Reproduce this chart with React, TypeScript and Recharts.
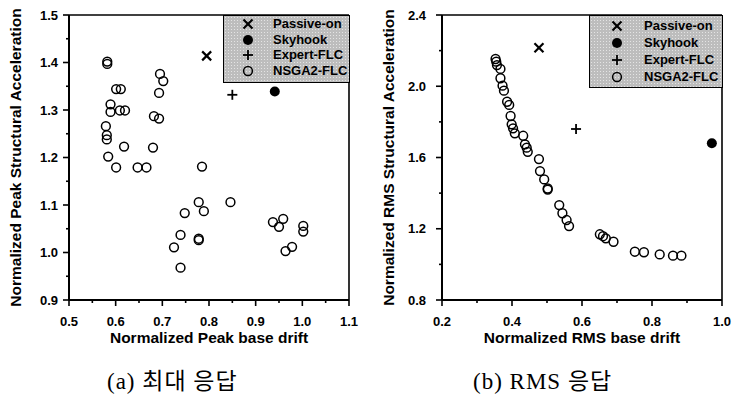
import React from 'react';
import { ScatterChart, Scatter, XAxis, YAxis, ReferenceLine, Legend } from 'recharts';

const seriesNames = ['Passive-on', 'Skyhook', 'Expert-FLC', 'NSGA2-FLC'];

// (a) Peak response
const peakPassive = [{ x: 0.795, y: 1.414 }];
const peakSkyhook = [{ x: 0.941, y: 1.339 }];
const peakExpert = [{ x: 0.85, y: 1.332 }];
const peakNsga = [
  { x: 0.582, y: 1.402 }, { x: 0.582, y: 1.397 }, { x: 0.695, y: 1.376 }, { x: 0.702, y: 1.361 },
  { x: 0.693, y: 1.336 }, { x: 0.601, y: 1.344 }, { x: 0.611, y: 1.344 }, { x: 0.589, y: 1.312 },
  { x: 0.589, y: 1.296 }, { x: 0.609, y: 1.299 }, { x: 0.62, y: 1.299 }, { x: 0.682, y: 1.287 },
  { x: 0.693, y: 1.282 }, { x: 0.579, y: 1.266 }, { x: 0.581, y: 1.247 }, { x: 0.581, y: 1.238 },
  { x: 0.618, y: 1.223 }, { x: 0.68, y: 1.221 }, { x: 0.584, y: 1.202 }, { x: 0.601, y: 1.179 },
  { x: 0.647, y: 1.179 }, { x: 0.666, y: 1.179 }, { x: 0.785, y: 1.181 },
  { x: 0.778, y: 1.106 }, { x: 0.846, y: 1.106 }, { x: 0.748, y: 1.083 }, { x: 0.789, y: 1.087 },
  { x: 0.739, y: 1.037 }, { x: 0.778, y: 1.029 }, { x: 0.778, y: 1.026 }, { x: 0.725, y: 1.011 },
  { x: 0.739, y: 0.968 }, { x: 0.937, y: 1.064 }, { x: 0.95, y: 1.054 }, { x: 0.959, y: 1.071 },
  { x: 0.964, y: 1.003 }, { x: 0.978, y: 1.012 }, { x: 1.002, y: 1.056 }, { x: 1.002, y: 1.044 },
];

// (b) RMS response
const rmsPassive = [{ x: 0.477, y: 2.216 }];
const rmsSkyhook = [{ x: 0.971, y: 1.68 }];
const rmsExpert = [{ x: 0.583, y: 1.76 }];
const rmsNsga = [
  { x: 0.353, y: 2.153 }, { x: 0.355, y: 2.138 }, { x: 0.357, y: 2.119 }, { x: 0.367, y: 2.097 },
  { x: 0.367, y: 2.045 }, { x: 0.373, y: 2.003 }, { x: 0.377, y: 1.975 }, { x: 0.386, y: 1.913 },
  { x: 0.392, y: 1.895 }, { x: 0.396, y: 1.833 }, { x: 0.399, y: 1.786 }, { x: 0.403, y: 1.764 },
  { x: 0.408, y: 1.736 }, { x: 0.432, y: 1.722 }, { x: 0.437, y: 1.674 }, { x: 0.442, y: 1.655 },
  { x: 0.445, y: 1.632 }, { x: 0.477, y: 1.591 }, { x: 0.48, y: 1.524 }, { x: 0.492, y: 1.477 },
  { x: 0.502, y: 1.426 }, { x: 0.502, y: 1.42 }, { x: 0.535, y: 1.333 }, { x: 0.544, y: 1.287 },
  { x: 0.556, y: 1.249 }, { x: 0.563, y: 1.215 }, { x: 0.651, y: 1.169 }, { x: 0.66, y: 1.158 },
  { x: 0.668, y: 1.146 }, { x: 0.69, y: 1.127 }, { x: 0.751, y: 1.071 }, { x: 0.777, y: 1.068 },
  { x: 0.822, y: 1.056 }, { x: 0.86, y: 1.049 }, { x: 0.884, y: 1.049 },
];

const peakXMajor = [0.5, 0.6, 0.7, 0.8, 0.9, 1.0, 1.1];
const peakXMinor = [0.55, 0.65, 0.75, 0.85, 0.95, 1.05];
const peakYMajor = [0.9, 1.0, 1.1, 1.2, 1.3, 1.4, 1.5];
const peakYMinor = [0.95, 1.05, 1.15, 1.25, 1.35, 1.45];
const rmsXMajor = [0.2, 0.4, 0.6, 0.8, 1.0];
const rmsXMinor = [0.3, 0.5, 0.7, 0.9];
const rmsYMajor = [0.8, 1.2, 1.6, 2.0, 2.4];
const rmsYMinor = [1.0, 1.4, 1.8, 2.2];

const captionA = '(a) 최대 응답';
const captionB = '(b) RMS 응답';

const FONT = "'Liberation Sans', Arial, Helvetica, sans-serif";

const merge = (a: number[], b: number[]) => [...a, ...b].sort((p, q) => p - q);
const isMajor = (v: number, majors: number[]) => majors.some((m) => Math.abs(m - v) < 1e-6);

const XTick = (props: any) => {
  const { x, y, payload, majors } = props;
  const major = isMajor(payload.value, majors);
  return (
    <g>
      <line x1={x} x2={x} y1={y} y2={y + (major ? 6 : 3)} stroke="#000" strokeWidth={1.6} />
      {major && (
        <text x={x} y={y + 26} textAnchor="middle" fontSize={13} fontWeight="bold" fontFamily={FONT} fill="#000">
          {payload.value.toFixed(1)}
        </text>
      )}
    </g>
  );
};

const YTick = (props: any) => {
  const { x, y, payload, majors, gap } = props;
  const major = isMajor(payload.value, majors);
  return (
    <g>
      <line x1={x} x2={x - (major ? 6 : 3)} y1={y} y2={y} stroke="#000" strokeWidth={1.6} />
      {major && (
        <text x={x - gap} y={y + 4.5} textAnchor="end" fontSize={13} fontWeight="bold" fontFamily={FONT} fill="#000">
          {payload.value.toFixed(1)}
        </text>
      )}
    </g>
  );
};

const Marker = ({ kind, cx, cy }: { kind: string; cx: number; cy: number }) => {
  if (kind === 'Passive-on') {
    return (
      <g stroke="#000" strokeWidth={2.2}>
        <line x1={cx - 4.5} y1={cy - 4.5} x2={cx + 4.5} y2={cy + 4.5} />
        <line x1={cx - 4.5} y1={cy + 4.5} x2={cx + 4.5} y2={cy - 4.5} />
      </g>
    );
  }
  if (kind === 'Skyhook') return <circle cx={cx} cy={cy} r={5} fill="#000" />;
  if (kind === 'Expert-FLC') {
    return (
      <g stroke="#000" strokeWidth={1.8}>
        <line x1={cx - 5} y1={cy} x2={cx + 5} y2={cy} />
        <line x1={cx} y1={cy - 5} x2={cx} y2={cy + 5} />
      </g>
    );
  }
  return <circle cx={cx} cy={cy} r={4.4} fill="none" stroke="#000" strokeWidth={1.5} />;
};

const shapeFor = (kind: string) => (p: any) => <Marker kind={kind} cx={p.cx} cy={p.cy} />;

const LegendBox = ({ width, height, markerX, textX, rowTop, rowGap }: any) => (
  <div
    style={{
      position: 'relative',
      width,
      height,
      boxSizing: 'border-box',
      border: '1.5px solid #000',
      backgroundColor: '#bdbdbd',
      backgroundImage: 'radial-gradient(circle, #e4e4e4 0.7px, transparent 1px)',
      backgroundSize: '3px 3px',
    }}
  >
    {seriesNames.map((n, i) => {
      const cy = rowTop + i * rowGap;
      return (
        <React.Fragment key={n}>
          <svg style={{ position: 'absolute', left: markerX - 8, top: cy - 8 }} width={16} height={16}>
            <Marker kind={n} cx={8} cy={8} />
          </svg>
          <div
            style={{
              position: 'absolute',
              left: textX,
              top: cy - 8,
              height: 16,
              lineHeight: '16px',
              fontFamily: FONT,
              fontWeight: 'bold',
              fontSize: 13,
              color: '#000',
              whiteSpace: 'nowrap',
            }}
          >
            {n}
          </div>
        </React.Fragment>
      );
    })}
  </div>
);

const labelStyle = { fontSize: 15.5, fontWeight: 'bold', fontFamily: FONT, fill: '#000' };

const Panel = (props: any) => {
  const {
    data, xMajor, xMinor, yMajor, yMinor, xDomain, yDomain, yWidth, right, gap,
    xLabel, yLabel, yLabelOffset, legend,
  } = props;
  return (
    <ScatterChart width={366} height={355} margin={{ top: 15, right, bottom: 0, left: 0 }}>
      <XAxis
        type="number"
        dataKey="x"
        domain={xDomain}
        ticks={merge(xMajor, xMinor)}
        interval={0}
        tickSize={0}
        tickMargin={0}
        tickLine={false}
        tick={<XTick majors={xMajor} />}
        axisLine={{ stroke: '#000', strokeWidth: 2 }}
        height={55}
        label={{ value: xLabel, position: 'insideBottom', offset: 12, style: labelStyle }}
      />
      <YAxis
        type="number"
        dataKey="y"
        domain={yDomain}
        ticks={merge(yMajor, yMinor)}
        interval={0}
        tickSize={0}
        tickMargin={0}
        tickLine={false}
        tick={<YTick majors={yMajor} gap={gap} />}
        axisLine={{ stroke: '#000', strokeWidth: 2 }}
        width={yWidth}
        label={{
          value: yLabel,
          angle: -90,
          position: 'insideLeft',
          offset: yLabelOffset,
          style: { ...labelStyle, textAnchor: 'middle' },
        }}
      />
      <ReferenceLine y={yDomain[1]} stroke="#000" strokeWidth={1.6} />
      <ReferenceLine x={xDomain[1]} stroke="#000" strokeWidth={1.6} />
      {data.map((d: any[], i: number) => (
        <Scatter
          key={seriesNames[i]}
          name={seriesNames[i]}
          data={d}
          shape={shapeFor(seriesNames[i])}
          isAnimationActive={false}
        />
      ))}
      <Legend
        layout="vertical"
        verticalAlign="middle"
        align="center"
        wrapperStyle={{ position: 'absolute', left: legend.left, top: 15, width: legend.width, height: legend.height }}
        content={() => <LegendBox {...legend} />}
      />
    </ScatterChart>
  );
};

const captionStyle: React.CSSProperties = {
  position: 'absolute',
  top: 367,
  height: 30,
  lineHeight: '30px',
  fontFamily: "'Liberation Serif', 'Times New Roman', 'Noto Sans CJK KR', serif",
  fontSize: 23,
  letterSpacing: 1,
  color: '#000',
  whiteSpace: 'nowrap',
};

export default function App() {
  return (
    <div style={{ position: 'absolute', left: 0, top: 0, width: 732, height: 397, background: '#fff', overflow: 'hidden' }}>
      <div style={{ position: 'absolute', left: 0, top: 0 }}>
        <Panel
          data={[peakPassive, peakSkyhook, peakExpert, peakNsga]}
          xMajor={peakXMajor}
          xMinor={peakXMinor}
          yMajor={peakYMajor}
          yMinor={peakYMinor}
          xDomain={[0.5, 1.1]}
          yDomain={[0.9, 1.5]}
          yWidth={69}
          right={17}
          gap={11}
          xLabel="Normalized Peak base drift"
          yLabel="Normalized Peak Structural Acceleration"
          yLabelOffset={15}
          legend={{ left: 223, width: 127, height: 68, markerX: 24, textX: 49, rowTop: 8, rowGap: 15.6 }}
        />
      </div>
      <div style={{ position: 'absolute', left: 366, top: 0 }}>
        <Panel
          data={[rmsPassive, rmsSkyhook, rmsExpert, rmsNsga]}
          xMajor={rmsXMajor}
          xMinor={rmsXMinor}
          yMajor={rmsYMajor}
          yMinor={rmsYMinor}
          xDomain={[0.2, 1.0]}
          yDomain={[0.8, 2.4]}
          yWidth={76}
          right={10}
          gap={16}
          xLabel="Normalized RMS base drift"
          yLabel="Normalized RMS Structural Acceleration"
          yLabelOffset={22}
          legend={{ left: 223, width: 134, height: 73, markerX: 27, textX: 54, rowTop: 10, rowGap: 17 }}
        />
      </div>
      <div style={{ ...captionStyle, left: 107 }}>{captionA}</div>
      <div style={{ ...captionStyle, left: 473 }}>{captionB}</div>
    </div>
  );
}
